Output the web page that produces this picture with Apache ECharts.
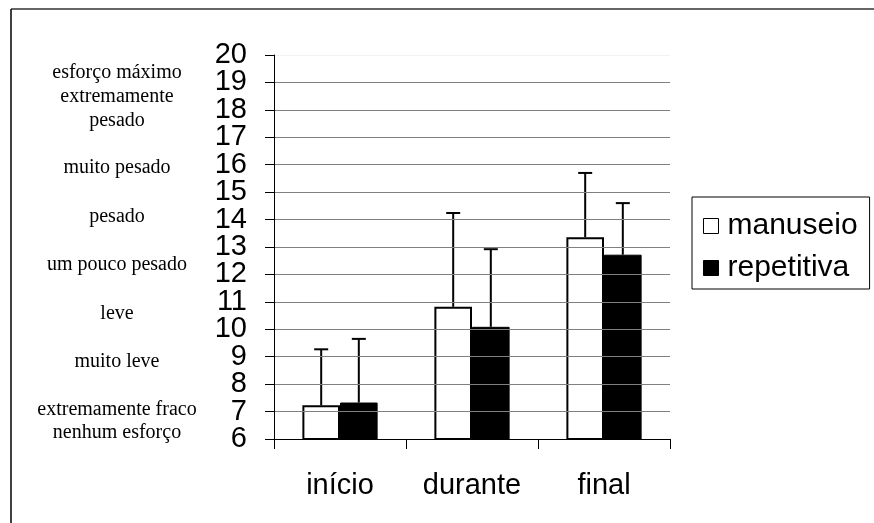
<!DOCTYPE html>
<html>
<head>
<meta charset="utf-8">
<script src="https://cdn.jsdelivr.net/npm/echarts@6/dist/echarts.min.js"></script>
<style>
  html, body { margin: 0; padding: 0; background: #fff; }
  #chart { width: 874px; height: 523px; }
</style>
</head>
<body>
<div id="chart"></div>
<script>
// Perceived exertion (Borg scale) at three moments of the task
const categories = ['início', 'durante', 'final'];
const manuseio = [7.23, 10.82, 13.36];
const repetitiva = [7.33, 10.09, 12.72];
// standard deviations (drawn upward only)
const manuseioSD = [2.04, 3.42, 2.34];
const repetitivaSD = [2.32, 2.83, 1.88];
const yTicks = { min: 6, max: 20, step: 1 };

const CAT_GAP = 0.43;
const sansFont = '"Liberation Sans", Arial, sans-serif';
const serifFont = '"Liberation Serif", "Times New Roman", serif';

function errorData(values, sd) {
  return values.map((v, i) => [i, v, v + sd[i]]);
}

function errorRenderer(side) {
  return function (params, api) {
    const cat = api.value(0);
    const base = api.coord([cat, api.value(1)]);
    const top = api.coord([cat, api.value(2)]);
    const bw = api.size([1, 0])[0] * (1 - CAT_GAP) / 2;
    const x = base[0] + side * bw / 2;
    const cap = 7;
    const style = { stroke: '#000', lineWidth: 2 };
    return {
      type: 'group',
      children: [
        { type: 'line', shape: { x1: x, y1: base[1], x2: x, y2: top[1] }, style },
        { type: 'line', shape: { x1: x - cap, y1: top[1], x2: x + cap, y2: top[1] }, style }
      ]
    };
  };
}

// 15 split lines (6..20); the top one is barely visible
const gridColors = [];
for (let v = yTicks.min; v <= yTicks.max; v += yTicks.step) {
  gridColors.push(v === yTicks.max ? '#f2f2f2' : '#808080');
}

const sideText = [
  { t: 'esforço máximo', y: 73 },
  { t: 'extremamente', y: 97 },
  { t: 'pesado', y: 121 },
  { t: 'muito pesado', y: 168 },
  { t: 'pesado', y: 217 },
  { t: 'um pouco pesado', y: 265 },
  { t: 'leve', y: 314 },
  { t: 'muito leve', y: 362 },
  { t: 'extremamente fraco', y: 410 },
  { t: 'nenhum esforço', y: 433 }
];

const labelStyle = { color: '#000', fontSize: 29, fontFamily: sansFont, margin: 27 };
const tickStyle = { show: true, inside: false, length: 9, lineStyle: { color: '#000', width: 1 } };

const chart = echarts.init(document.getElementById('chart'), null, { renderer: 'canvas' });
chart.setOption({
  animation: false,
  backgroundColor: '#fff',
  grid: { left: 274, right: 204, top: 55, bottom: 84 },
  xAxis: {
    type: 'category',
    data: categories,
    axisLine: { lineStyle: { color: '#000', width: 1 } },
    axisTick: { show: true, alignWithLabel: false, length: 10, lineStyle: { color: '#000', width: 1 } },
    axisLabel: { color: '#000', fontSize: 29, fontFamily: sansFont, margin: 32 },
    z: 5
  },
  yAxis: [
    {
      // inner values 7..19 with grid lines
      type: 'value',
      min: yTicks.min,
      max: yTicks.max,
      interval: yTicks.step,
      axisLine: { show: true, lineStyle: { color: '#000', width: 1 } },
      axisTick: tickStyle,
      axisLabel: Object.assign({ showMinLabel: false, showMaxLabel: false }, labelStyle),
      splitLine: { show: true, lineStyle: { color: gridColors, width: 1 } },
      z: 5
    },
    {
      // end values 6 and 20
      type: 'value',
      position: 'left',
      min: yTicks.min,
      max: yTicks.max,
      interval: 2,
      axisLine: { show: false },
      axisTick: tickStyle,
      axisLabel: Object.assign({
        showMinLabel: true, showMaxLabel: true,
        formatter: v => (v === yTicks.min || v === yTicks.max) ? String(v) : ''
      }, labelStyle),
      splitLine: { show: false },
      z: 5
    }
  ],
  legend: {
    orient: 'vertical',
    left: 692,
    top: 197,
    data: ['manuseio', 'repetitiva'],
    icon: 'rect',
    itemWidth: 15,
    itemHeight: 15,
    itemGap: 12,
    padding: [14, 12, 6, 11],
    borderColor: '#000',
    borderWidth: 1,
    itemStyle: { borderWidth: 1, borderColor: '#000' },
    textStyle: { color: '#000', fontSize: 30, fontFamily: sansFont, padding: [0, 0, 0, 4] }
  },
  graphic: [
    { type: 'line', shape: { x1: 11, y1: 9, x2: 874, y2: 9 }, style: { stroke: '#333', lineWidth: 1.5 } },
    { type: 'line', shape: { x1: 11, y1: 9, x2: 11, y2: 523 }, style: { stroke: '#000', lineWidth: 1.5 } },
    ...sideText.map(s => ({
      type: 'text',
      x: 117,
      y: s.y,
      style: {
        text: s.t,
        fill: '#000',
        font: '20px ' + serifFont,
        textAlign: 'center',
        textVerticalAlign: 'middle'
      }
    }))
  ],
  series: [
    {
      name: 'manuseio',
      type: 'bar',
      data: manuseio,
      barGap: '0%',
      barCategoryGap: (CAT_GAP * 100) + '%',
      itemStyle: { color: '#fff', borderColor: '#000', borderWidth: 2 },
      z: 3
    },
    {
      name: 'repetitiva',
      type: 'bar',
      data: repetitiva,
      barGap: '0%',
      barCategoryGap: (CAT_GAP * 100) + '%',
      itemStyle: { color: '#000', borderColor: '#000', borderWidth: 1 },
      z: 3
    },
    {
      name: 'manuseio-dp',
      type: 'custom',
      renderItem: errorRenderer(-1),
      data: errorData(manuseio, manuseioSD),
      encode: { x: 0, y: [1, 2] },
      z: 4,
      silent: true
    },
    {
      name: 'repetitiva-dp',
      type: 'custom',
      renderItem: errorRenderer(1),
      data: errorData(repetitiva, repetitivaSD),
      encode: { x: 0, y: [1, 2] },
      z: 4,
      silent: true
    }
  ]
});
</script>
</body>
</html>
